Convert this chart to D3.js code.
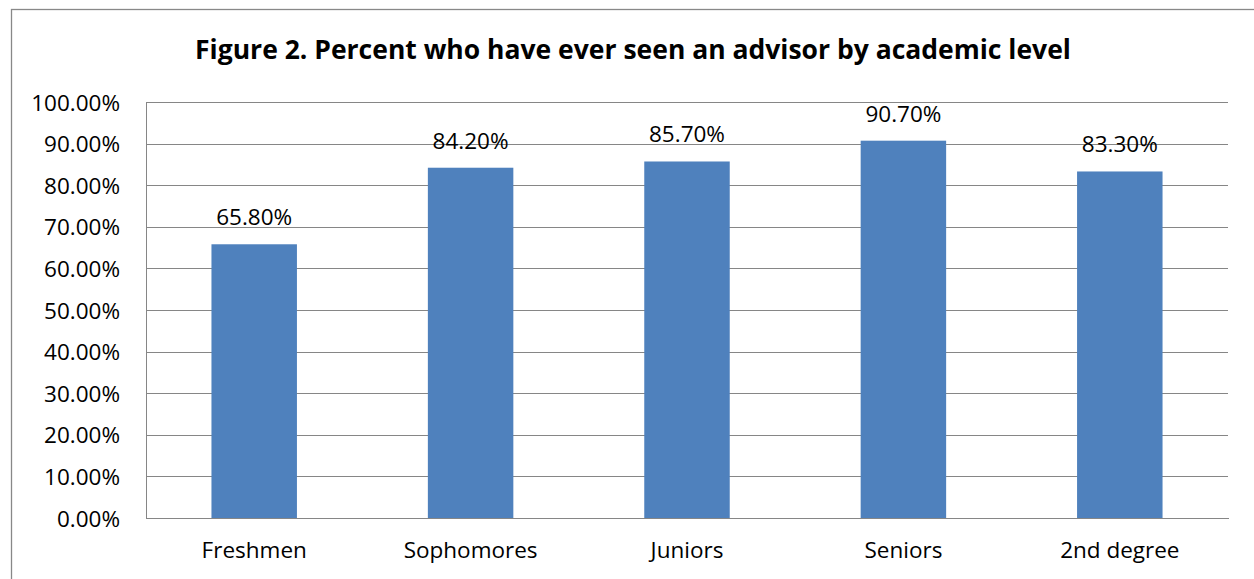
<!DOCTYPE html>
<html>
<head>
<meta charset="utf-8">
<script src="https://cdn.jsdelivr.net/npm/d3@7"></script>
<style>
  html, body { margin: 0; padding: 0; background: #ffffff; }
  svg { display: block; }
  text { font-family: "Open Sans", Lato, sans-serif; fill: #000; }
</style>
</head>
<body>
<svg id="chart" width="1254" height="579"></svg>
<script>
// Academic levels and the share of students who have ever seen an advisor (percent)
const categories = ["Freshmen", "Sophomores", "Juniors", "Seniors", "2nd degree"];
const values = [65.8, 84.2, 85.7, 90.7, 83.3];
const yTicks = [0, 10, 20, 30, 40, 50, 60, 70, 80, 90, 100];
const title = "Figure 2. Percent who have ever seen an advisor by academic level";

const W = 1254, H = 579;
const plot = { left: 146, top: 102, right: 1228, bottom: 518 };
const FONT = "'Open Sans', Lato, sans-serif";
const LABEL_SIZE = 22.5;
const GRID = "#868686";

const svg = d3.select("#chart");

// outer chart frame (runs past the right and bottom edges of the view)
svg.append("rect")
  .attr("x", 11.5).attr("y", 9.5)
  .attr("width", 1245).attr("height", 620)
  .attr("fill", "#fff")
  .attr("stroke", "#888888")
  .attr("stroke-width", 1.3);

const x = d3.scaleBand()
  .domain(categories)
  .range([plot.left, plot.right])
  .paddingInner(0.605)
  .paddingOuter(0.3025);

const y = d3.scaleLinear()
  .domain([0, 100])
  .range([plot.bottom, plot.top]);

const pct = v => d3.format(".2f")(v) + "%";

// horizontal gridlines with value labels on the left
const yAxis = d3.axisLeft(y)
  .tickValues(yTicks)
  .tickSize(-(plot.right - plot.left))
  .tickPadding(26)
  .tickFormat(pct);

const gy = svg.append("g")
  .attr("transform", `translate(${plot.left},0)`)
  .call(yAxis);
gy.select(".domain").remove();
gy.selectAll(".tick line")
  .attr("stroke", GRID)
  .attr("stroke-width", 1)
  .attr("shape-rendering", "crispEdges");
gy.selectAll(".tick text")
  .attr("font-size", LABEL_SIZE)
  .attr("font-family", FONT)
  .attr("fill", "#000")
  .attr("x", -26)
  .attr("dy", "0.36em");

// bars
svg.append("g")
  .selectAll("rect")
  .data(values)
  .join("rect")
  .attr("x", (d, i) => x(categories[i]))
  .attr("y", d => y(d))
  .attr("width", x.bandwidth())
  .attr("height", d => y(0) - y(d))
  .attr("fill", "#4F81BD");

// value labels above bars
svg.append("g")
  .selectAll("text")
  .data(values)
  .join("text")
  .attr("x", (d, i) => x(categories[i]) + x.bandwidth() / 2)
  .attr("y", d => y(d) - 19)
  .attr("text-anchor", "middle")
  .attr("font-size", LABEL_SIZE)
  .text(d => pct(d));

// left and bottom axis lines
svg.append("line")
  .attr("x1", plot.left).attr("x2", plot.left)
  .attr("y1", plot.top).attr("y2", plot.bottom)
  .attr("stroke", GRID).attr("stroke-width", 1)
  .attr("shape-rendering", "crispEdges");

const xAxis = d3.axisBottom(x).tickSize(0).tickPadding(24);
const gx = svg.append("g")
  .attr("transform", `translate(0,${plot.bottom})`)
  .call(xAxis);
gx.select(".domain")
  .attr("stroke", GRID).attr("stroke-width", 1)
  .attr("shape-rendering", "crispEdges");
gx.selectAll(".tick text")
  .attr("font-size", LABEL_SIZE)
  .attr("font-family", FONT)
  .attr("fill", "#000")
  .attr("dy", "0.71em");

// title
svg.append("text")
  .attr("x", 633)
  .attr("y", 58.5)
  .attr("text-anchor", "middle")
  .attr("font-size", 26.5)
  .attr("font-weight", "bold")
  .text(title);
</script>
</body>
</html>
